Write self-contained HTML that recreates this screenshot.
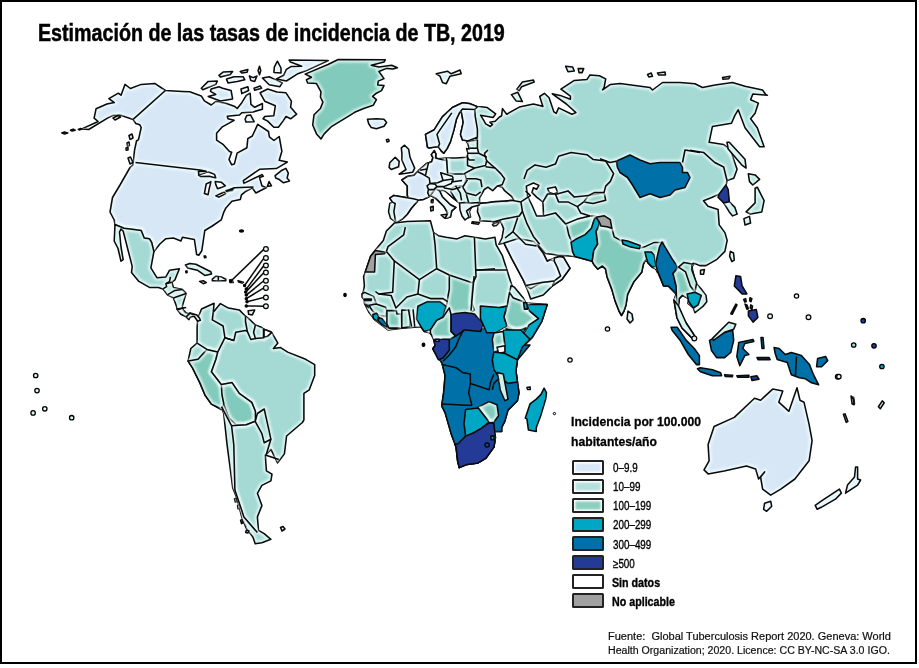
<!DOCTYPE html>
<html><head><meta charset="utf-8"><style>
html,body{margin:0;padding:0;background:#fff;}
body{width:919px;height:668px;position:relative;overflow:hidden;font-family:"Liberation Sans",sans-serif;}
#frame{position:absolute;left:0;top:0;width:913px;height:660px;border:2px solid #000;}
svg{position:absolute;left:0;top:0;}
.h{fill:none;stroke:#effffd;stroke-opacity:0.7;stroke-width:6;filter:url(#bl);mask:url(#lm);}
.k{fill:none;stroke:#0a0a0a;stroke-width:1.55;}
#title{position:absolute;left:38px;top:19.5px;font-size:23.5px;font-weight:bold;white-space:nowrap;transform-origin:0 0;transform:scaleX(0.837);line-height:26px;-webkit-text-stroke:0.5px #000;}
.lt{position:absolute;left:571px;font-size:13.4px;font-weight:bold;white-space:nowrap;transform-origin:0 0;transform:scaleX(0.91);line-height:16px;-webkit-text-stroke:0.3px #000;}
#lt1{top:414px;} #lt2{top:434px;}
.sw{position:absolute;left:572px;width:27.5px;height:11px;border:2px solid #222;border-radius:1.5px;}
.ll{position:absolute;left:613px;font-size:12px;white-space:nowrap;transform-origin:0 0;transform:scaleX(0.82);line-height:14px;-webkit-text-stroke:0.35px #000;}
.ll.b{font-weight:bold;transform:scaleX(0.89);left:612px;}
.ft{position:absolute;left:607.5px;font-size:10px;white-space:nowrap;transform-origin:0 0;transform:scaleX(1.06);line-height:12px;color:#111;-webkit-text-stroke:0.2px #111;}
#f1{top:630.5px;transform:scaleX(1.10);} #f2{top:645px;}
</style></head><body>
<div id="frame"></div>
<div id="title">Estimación de las tasas de incidencia de TB, 2019</div>
<div id="lt1" class="lt">Incidencia por 100.000</div>
<div id="lt2" class="lt">habitantes/año</div>
<div class="sw" style="top:459.6px;background:#d8e7f6;box-shadow:inset 0 0 2px 1.5px #fff;"></div>
<div class="ll" style="top:461.1px">0–9.9</div>
<div class="sw" style="top:478.7px;background:#b5e0dc;box-shadow:inset 0 0 2px 1.5px #fff;"></div>
<div class="ll" style="top:480.2px">10–99</div>
<div class="sw" style="top:497.8px;background:#8ccfbf;box-shadow:inset 0 0 2px 1.5px #fff;"></div>
<div class="ll" style="top:499.3px">100–199</div>
<div class="sw" style="top:516.9px;background:#00a7c5;"></div>
<div class="ll" style="top:518.4px">200–299</div>
<div class="sw" style="top:536.0px;background:#0071a8;"></div>
<div class="ll" style="top:537.5px">300–499</div>
<div class="sw" style="top:555.1px;background:#233b96;"></div>
<div class="ll" style="top:556.6px">≥500</div>
<div class="sw" style="top:574.2px;background:#ffffff;"></div>
<div class="ll b" style="top:575.7px">Sin datos</div>
<div class="sw" style="top:593.3px;background:#a0a0a0;"></div>
<div class="ll b" style="top:594.8px">No aplicable</div>
<div id="f1" class="ft">Fuente:&nbsp; Global Tuberculosis Report 2020. Geneva: World</div>
<div id="f2" class="ft">Health Organization; 2020. Licence: CC BY-NC-SA 3.0 IGO.</div>
<svg width="919" height="668" viewBox="0 0 919 668">
<defs><filter id="bl" filterUnits="userSpaceOnUse" x="0" y="0" width="919" height="668"><feGaussianBlur stdDeviation="1.1"/></filter><polygon id="p0" points="81.9,128.9 98.1,121.5 94.1,118.1 96.1,108.7 106.9,104.0 114.3,102.6 108.9,98.6 118.3,93.2 121.0,95.2 125.0,84.4 130.4,88.5 141.2,84.4 154.7,83.4 165.4,90.5 182.5,91.5 189.8,91.8 201.3,95.9 204.4,100.9 211.2,105.0 215.8,101.5 226.5,103.5 234.9,106.6 237.2,108.5 241.8,102.7 246.3,95.4 250.2,93.3 250.9,104.3 254.7,107.3 262.4,103.5 262.4,109.2 253.2,111.9 241.8,112.7 239.5,115.0 227.3,116.2 228.0,118.8 234.1,120.3 221.9,127.2 216.6,133.3 216.6,140.2 223.4,144.7 229.5,151.6 231.7,152.2 229.0,159.4 231.7,164.8 234.4,163.9 237.1,153.1 246.9,147.7 247.8,138.7 252.3,136.0 257.7,124.4 268.5,131.5 269.4,136.9 273.9,140.5 279.2,136.5 281.9,151.3 279.2,160.3 287.3,162.1 276.3,168.6 259.5,169.3 243.3,180.6 243.9,183.4 261.9,174.6 263.3,176.2 259.5,177.4 261.9,185.8 266.1,187.8 255.9,193.0 252.3,187.8 245.1,191.8 241.5,194.8 240.3,199.5 231.9,201.3 225.9,207.9 223.6,212.7 221.2,219.9 212.3,226.0 204.8,230.5 201.8,250.7 198.8,255.2 196.6,254.4 194.4,239.5 182.4,237.2 180.9,241.0 173.4,238.0 165.9,238.7 159.9,244.0 153.9,251.5 151.7,242.5 149.4,238.7 144.2,238.0 141.2,230.5 135.9,229.7 124.0,228.2 115.0,224.5 114.2,220.0 110.0,212.0 112.5,197.5 120.0,185.0 130.0,167.5 133.1,165.0 134.5,150.4 136.5,141.0 138.5,139.6 141.2,127.5 139.8,124.8 135.8,123.5 133.1,119.4 125.0,116.8 119.6,114.7 112.9,115.4 107.5,118.1 88.7,129.5"/><polygon id="p1" points="198.4,175.0 208.0,171.7 214.6,174.4 215.8,178.0 209.2,176.2 200.8,176.5"/><polygon id="p2" points="204.4,193.6 206.2,184.0 211.0,181.6 209.2,188.8 208.0,194.8"/><polygon id="p3" points="215.2,181.6 221.2,182.2 225.4,185.8 221.2,187.6 217.6,188.8 215.8,184.6"/><polygon id="p4" points="215.8,195.9 224.8,191.8 225.9,193.6 218.8,197.1"/><polygon id="p5" points="225.9,190.6 234.3,188.2 232.5,190.6 227.1,191.8"/><polygon id="p6" points="201.3,88.2 208.2,81.4 217.3,81.1 215.8,84.4 202.8,89.8"/><polygon id="p7" points="218.9,75.3 223.4,71.9 232.6,71.5 230.3,74.5 220.4,77.1"/><polygon id="p8" points="226.5,79.1 234.1,76.8 243.3,76.8 244.8,79.8 237.2,81.4 228.0,82.9"/><polygon id="p9" points="240.2,71.5 247.9,69.5 247.1,72.2 241.8,73.0"/><polygon id="p10" points="249.4,76.0 253.2,77.6 257.0,76.0 254.7,81.4 250.9,80.6"/><polygon id="p11" points="211.2,89.0 218.9,86.7 222.7,88.2 231.1,90.5 232.6,98.9 220.4,100.9 208.2,96.6 215.8,94.4 210.5,91.3"/><polygon id="p12" points="241.0,89.0 247.9,86.7 248.6,90.5 241.8,93.6"/><polygon id="p13" points="254.0,88.2 260.1,86.0 261.6,88.2 254.7,90.2"/><polygon id="p14" points="262.4,78.0 269.2,76.8 282.2,82.9 279.9,86.7 269.2,84.7"/><polygon id="p15" points="260.1,92.8 267.7,89.0 276.9,92.1 286.0,92.8 291.4,101.2 290.6,107.3 296.7,114.2 290.6,118.8 286.0,116.5 283.0,121.1 278.4,127.2 273.8,127.2 267.7,121.1 263.1,118.8 264.7,116.5 273.8,115.7 275.3,105.8 264.7,101.2"/><polygon id="p16" points="245.1,119.0 246.9,115.4 250.5,114.9 254.1,121.7 246.0,122.1"/><polygon id="p17" points="289.1,60.1 328.2,60.6 305.3,71.1 297.2,74.1 286.4,81.0 276.5,78.9 283.7,75.3 286.4,69.3 290.9,66.6 301.7,66.2 290.5,62.1"/><polygon id="p18" points="277.4,61.2 281.0,68.0 281.0,72.9 273.9,72.4 274.3,67.1"/><polygon id="p19" points="259.5,66.2 260.8,70.6 259.5,74.7 258.1,70.6"/><polygon id="p20" points="275.1,175.6 281.1,170.8 285.9,168.4 288.3,173.2 287.1,178.0 289.5,181.0 283.5,182.8 278.7,179.2 275.7,178.0"/><polygon id="p21" points="269.1,181.6 271.5,185.8 267.3,186.4"/><polygon id="p22" points="61.7,132.9 64.4,132.1 67.8,132.9 64.4,134.0"/><polygon id="p23" points="70.5,130.2 73.2,129.1 75.2,130.2 72.2,131.0"/><polygon id="p24" points="78.2,129.4 80.6,128.6 81.9,128.9 79.2,129.9"/><polygon id="p25" points="305.1,74.1 328.0,64.5 338.2,59.5 385.3,59.8 384.0,62.0 371.3,65.2 378.9,67.1 391.7,65.2 397.4,67.7 392.9,69.0 386.6,68.4 378.9,71.5 384.0,78.6 378.3,81.1 377.7,84.9 384.0,85.6 381.5,90.6 376.4,93.2 372.6,96.4 376.4,99.6 373.2,105.3 363.7,108.5 354.7,112.3 344.6,118.7 331.8,126.3 324.2,133.9 321.0,139.0 316.5,133.9 312.7,125.0 314.0,114.8 320.4,108.5 322.9,102.1 320.4,97.0 321.0,91.9 316.5,83.6 307.6,83.0 306.4,79.8 311.5,77.3"/><polygon id="p26" points="367.5,119.3 376.4,118.7 384.0,119.3 386.6,122.5 384.0,126.3 376.4,128.8 371.3,127.6 368.7,123.7"/><polygon id="p27" points="198.0,318.0 201.5,309.0 214.1,303.2 213.2,312.6 215.9,309.0 220.4,303.6 228.5,308.1 239.3,309.9 245.5,316.2 250.0,319.8 255.4,325.1 260.8,326.9 264.4,329.6 269.8,331.4 271.6,332.3 277.9,343.1 273.4,348.5 280.6,347.6 287.7,352.1 305.7,359.3 314.7,364.6 314.7,375.4 309.3,389.8 303.9,393.4 303.9,419.9 302.4,422.5 286.6,436.0 284.4,453.9 277.6,462.9 270.9,449.4 265.3,455.1 266.4,470.8 272.0,474.2 270.9,480.9 261.9,485.4 257.4,493.3 261.9,505.6 257.4,516.9 258.5,530.3 264.2,533.7 270.9,539.3 261.9,542.7 255.2,543.8 252.9,537.1 246.2,528.1 241.7,516.9 237.2,498.9 232.7,487.6 227.1,444.9 223.7,413.5 221.5,406.7 221.3,409.5 211.4,404.1 205.1,395.2 199.8,382.6 192.6,368.2 188.1,361.1 190.8,348.5 197.1,343.1 197.1,326.9"/><polygon id="p28" points="188.1,361.1 198.0,359.3 206.9,349.4 217.7,352.1 215.9,359.3 211.4,371.8 221.3,384.4 224.9,389.8 224.0,402.4 222.2,409.5 211.4,404.1 205.1,395.2 199.8,382.6 192.6,368.2"/><polygon id="p29" points="221.3,384.4 232.0,382.6 239.3,393.4 251.8,402.4 255.4,411.3 256.0,418.0 255.2,421.3 246.2,424.7 236.0,424.7 229.0,418.0 224.0,405.0 222.0,395.0"/><polygon id="p30" points="264.0,329.3 269.8,331.4 271.6,332.7 268.0,335.9 264.0,337.7"/><polygon id="p31" points="115.0,224.5 124.0,228.2 135.9,229.7 141.2,230.5 144.2,238.0 149.4,238.7 151.7,242.5 153.9,251.5 150.9,267.9 156.9,277.7 165.9,276.9 169.6,270.2 179.4,268.7 174.9,279.9 171.9,282.2 173.4,287.4 182.4,289.6 186.1,293.4 183.9,300.9 181.6,308.4 186.1,312.9 192.9,314.4 190.2,312.9 196.9,314.9 199.6,318.3 200.3,320.3 197.6,321.2 194.2,316.3 190.2,316.9 188.9,319.6 186.2,316.9 180.8,314.2 176.7,308.9 177.9,309.9 173.4,297.9 167.4,294.9 162.9,288.9 158.4,287.4 149.4,287.4 138.9,281.4 131.5,272.4 132.2,266.4 123.2,231.2 121.0,229.0 119.5,232.0 121.0,247.0 123.2,259.7 121.0,261.2 118.0,248.5 114.2,241.0"/><polygon id="p32" points="185.4,264.9 189.9,263.4 195.9,264.2 210.8,271.7 211.6,273.9 204.8,275.4 197.3,270.2 187.6,267.9"/><polygon id="p33" points="212.3,279.2 216.1,276.2 221.3,276.9 225.8,279.2 225.8,280.7 212.3,280.7"/><polygon id="p34" points="199.6,281.4 203.3,280.7 206.3,282.6 203.3,283.7"/><polygon id="p35" points="185.7,271.2 186.9,270.9 187.2,272.4 186.0,272.7"/><polygon id="p36" points="204.1,255.9 205.6,255.9 206.0,257.4 204.5,257.7"/><polygon id="p37" points="229.6,280.1 232.0,279.5 233.2,282.5 230.2,282.5"/><polygon id="p38" points="238.0,280.7 243.4,282.2 242.2,283.1 238.6,281.9"/><polygon id="p39" points="248.1,310.7 254.7,310.1 252.3,314.9 248.7,314.3"/><polygon id="p40" points="390.5,218.3 388.5,211.6 389.8,203.5 392.5,202.1 389.8,198.1 393.9,195.4 408.7,198.1 407.3,195.4 407.3,186.0 401.9,179.9 407.3,176.5 414.1,175.2 419.4,169.8 426.2,163.8 431.6,161.7 432.9,157.7 431.3,154.6 434.3,150.6 435.9,154.0 435.6,158.0 438.3,158.7 446.4,158.0 455.8,158.0 467.3,157.3 467.9,153.3 466.6,148.6 469.3,149.3 467.9,143.9 466.6,141.9 477.4,140.1 477.6,137.4 467.9,140.1 462.5,140.1 460.5,134.4 463.2,122.3 461.2,110.9 459.8,112.2 456.5,119.0 453.8,130.4 450.4,141.9 447.1,148.6 443.7,153.3 441.0,150.6 438.3,146.6 428.9,147.9 427.5,147.2 425.5,134.4 434.3,129.7 442.3,116.9 452.4,107.5 462.5,102.8 469.3,103.5 477.4,106.8 481.0,106.8 487.3,107.6 495.7,113.9 493.1,117.5 480.5,115.2 483.6,120.2 485.7,123.8 490.4,126.5 492.5,124.4 489.9,122.3 495.2,121.2 499.4,117.0 501.5,116.0 502.5,108.6 506.7,114.2 519.3,107.1 533.4,104.0 539.7,105.6 542.9,106.4 539.7,96.5 544.4,93.3 549.1,97.7 553.9,111.9 556.2,113.4 558.6,107.9 571.9,114.2 575.9,112.6 566.4,104.0 552.3,93.8 560.1,95.4 570.4,99.3 570.4,96.1 560.9,89.1 574.3,80.4 586.9,79.6 590.0,74.9 599.4,75.7 605.7,78.9 604.1,87.5 602.6,89.9 610.4,84.4 620.0,83.6 650.0,87.5 652.5,90.0 662.5,82.5 680.0,82.5 695.0,83.8 702.5,87.5 715.0,85.0 732.5,82.5 745.0,86.2 762.5,90.0 766.2,95.0 767.4,95.2 752.8,94.1 750.6,99.7 758.4,103.1 755.1,113.2 750.6,118.8 757.3,127.7 764.1,146.8 759.6,146.8 745.0,127.7 738.2,109.8 734.9,115.4 731.5,123.2 712.4,126.6 709.1,142.3 723.7,144.6 730.4,150.2 737.1,169.3 733.8,178.2 727.0,180.5 725.9,186.1 729.3,201.8 734.9,207.4 737.1,214.1 732.6,215.9 729.3,211.9 723.7,202.9 719.2,193.9 712.4,197.3 703.5,200.7 708.0,206.3 718.1,209.6 719.2,224.9 724.9,232.6 727.2,240.4 724.9,251.4 717.0,259.3 706.0,265.6 699.7,265.6 694.2,263.2 691.9,267.1 693.4,273.4 695.8,282.9 701.3,289.1 706.0,295.4 706.8,301.7 702.9,306.4 695.0,312.7 693.4,308.0 687.9,303.3 688.7,298.6 682.4,295.4 679.3,298.6 677.7,308.0 680.9,317.4 685.6,322.1 692.3,332.3 696.4,338.8 693.3,339.4 682.0,328.0 677.0,318.0 675.0,306.0 674.0,300.0 676.1,293.9 668.3,286.0 663.6,286.0 655.7,267.1 657.4,272.3 655.9,269.1 651.1,266.0 645.6,259.7 643.3,264.4 641.7,272.3 633.9,281.7 627.6,294.3 626.0,305.0 624.0,311.0 621.5,315.5 619.0,311.0 615.0,300.6 611.9,289.6 607.1,277.0 605.6,269.1 602.4,266.0 597.7,269.1 593.8,264.4 592.2,261.3 586.7,259.7 574.9,256.6 557.4,254.9 545.6,253.4 537.0,243.1 538.6,247.1 543.3,253.4 547.2,261.2 550.4,259.6 554.3,258.1 559.8,256.5 563.7,257.6 570.0,268.3 562.1,279.3 552.7,285.6 543.3,295.0 530.7,298.9 527.6,290.3 522.9,279.3 511.9,258.9 504.0,243.1 498.9,244.3 502.0,238.0 503.6,228.6 500.4,220.7 492.6,221.5 480.0,220.7 480.1,218.3 477.4,211.6 478.7,203.5 472.0,206.2 469.3,211.6 470.6,217.0 466.6,218.3 463.9,211.6 459.8,203.5 453.1,198.1 445.0,190.0 439.6,190.7 442.3,196.8 450.4,204.8 455.8,207.5 451.8,210.9 450.4,217.0 445.7,218.3 447.7,212.9 443.7,206.2 435.6,198.1 430.2,195.4 428.9,196.8 423.5,199.4 418.1,200.1 416.8,202.1 411.4,208.2 407.3,214.3 403.3,218.3 396.5,222.3"/><polygon id="p41" points="479.5,197.9 484.3,189.5 487.9,187.1 492.7,190.7 497.4,185.9 502.2,187.1 504.6,190.7 511.8,196.7 514.2,200.3 507.0,201.5 495.0,201.5 485.5,203.3 479.5,202.7"/><polygon id="p42" points="526.4,186.1 533.4,183.0 538.9,185.4 536.6,189.3 533.4,187.7 531.9,192.4 536.6,197.1 542.9,201.9 543.6,216.0 536.6,216.0 531.9,205.0 527.1,195.6"/><polygon id="p43" points="547.6,188.5 555.4,186.9 557.8,192.4 553.9,194.0 549.1,192.4"/><polygon id="p44" points="392.5,202.1 389.8,198.1 393.9,195.4 408.7,198.1 407.3,195.4 407.3,186.0 401.9,179.9 407.3,176.5 414.1,175.2 419.4,169.8 426.2,163.8 431.6,161.7 432.9,157.7 431.3,154.6 434.3,150.6 435.9,154.0 435.6,158.0 438.3,158.7 447.2,160.8 447.2,172.7 453.2,173.9 465.1,173.9 466.3,178.7 463.9,185.9 455.6,185.9 452.0,188.3 450.7,191.7 455.9,199.9 457.0,201.0 452.0,197.0 445.0,191.0 442.0,190.0 436.0,191.0 429.0,193.0 428.9,196.8 423.5,199.4 418.1,200.1 416.8,202.1 411.4,208.2 407.3,214.3 403.3,218.3 396.5,222.3 395.2,219.6 393.9,211.6 395.2,203.5"/><polygon id="p45" points="430.2,195.4 435.6,188.7 439.6,190.7 442.3,196.8 450.4,204.8 455.8,207.5 451.8,210.9 450.4,217.0 445.7,218.3 447.7,212.9 443.7,206.2 435.6,198.1"/><polygon id="p46" points="441.0,214.9 447.1,214.3 445.0,218.3"/><polygon id="p47" points="431.3,200.1 433.2,199.4 432.9,202.8 431.3,202.4"/><polygon id="p48" points="430.5,206.9 433.2,206.2 433.2,210.2 430.9,210.9"/><polygon id="p49" points="459.6,203.0 465.0,202.5 471.0,203.0 479.0,202.5 479.5,205.0 472.0,207.0 466.5,211.0 469.0,217.0 465.0,220.0 462.0,216.0 460.0,210.0"/><polygon id="p50" points="472.3,221.8 479.5,222.4 478.3,224.2 471.7,223.2"/><polygon id="p51" points="427.5,147.2 425.5,134.4 434.3,129.7 442.3,116.9 452.4,107.5 462.5,102.8 469.3,103.5 477.4,106.8 474.7,109.5 475.3,116.9 477.4,129.1 477.4,137.1 467.9,140.9 462.5,140.1 460.5,134.4 463.2,122.3 461.2,110.9 459.8,112.2 456.5,119.0 453.8,130.4 450.4,141.9 447.1,148.6 443.7,153.3 441.0,150.6 438.3,146.6 428.9,147.9"/><polygon id="p52" points="401.3,147.9 404.6,145.2 408.7,149.3 410.0,157.3 414.7,168.1 412.7,172.2 404.6,173.5 399.2,174.2 406.0,169.5 401.9,160.0 401.9,153.3"/><polygon id="p53" points="389.8,162.7 395.2,157.3 399.2,161.4 398.6,166.8 391.2,169.5 389.1,167.4"/><polygon id="p54" points="386.4,139.8 388.5,139.2 389.1,141.2 387.1,141.9"/><polygon id="p55" points="436.2,73.8 447.5,71.2 451.2,73.8 460.0,70.0 461.2,73.8 450.0,76.2 446.2,83.8 442.5,82.5 440.0,76.2"/><polygon id="p56" points="516.9,89.1 522.4,82.0 533.4,80.1 534.2,82.0 521.6,86.7 519.3,90.6"/><polygon id="p57" points="511.4,94.6 517.7,92.2 522.4,101.6 516.1,100.9"/><polygon id="p58" points="565.6,66.3 572.7,67.1 574.3,71.0 568.0,71.8"/><polygon id="p59" points="578.2,68.6 583.7,68.6 582.1,72.6 579.0,72.6"/><polygon id="p60" points="647.5,74.5 651.2,73.0 652.5,76.2 648.8,77.0"/><polygon id="p61" points="657.5,73.0 665.0,72.0 665.5,75.0 658.8,75.0"/><polygon id="p62" points="722.5,77.5 730.0,76.2 728.8,78.8 723.0,79.2"/><polygon id="p63" points="394.3,223.1 406.9,221.6 430.4,220.8 433.6,232.6 438.3,235.7 446.1,237.3 457.1,238.9 465.0,235.7 474.4,237.3 485.4,238.9 495.0,237.3 496.1,244.7 502.4,255.7 511.9,285.6 513.4,287.1 522.9,298.1 526.0,302.9 547.2,304.4 541.7,321.7 532.3,337.4 522.1,347.3 517.4,359.9 515.9,370.9 517.4,381.9 519.0,392.9 517.4,400.7 508.0,410.1 504.9,421.1 501.7,427.4 501.7,431.4 493.9,431.4 495.4,437.7 493.9,447.1 486.0,458.1 478.1,462.9 467.1,464.4 459.3,467.6 457.7,461.3 456.1,447.1 451.4,434.6 445.1,412.6 442.0,406.3 442.0,403.9 443.6,392.9 445.1,375.6 442.0,363.0 435.7,353.6 432.8,348.7 435.1,345.6 433.6,336.9 430.4,333.0 424.1,331.4 421.0,326.7 402.1,328.3 388.0,329.9 375.4,320.4 369.1,312.6 364.4,303.1 364.4,298.6 362.9,293.9 364.4,286.0 363.6,276.6 366.0,270.3 370.7,256.1 375.4,249.9 383.3,240.4 386.4,231.0"/><polygon id="p64" points="430.0,333.0 446.0,336.0 456.0,331.0 470.0,330.0 486.0,328.0 497.0,333.0 505.0,345.0 530.0,345.0 517.4,359.9 515.9,370.9 517.4,381.9 519.0,392.9 517.4,400.7 508.0,410.1 504.9,421.1 501.7,427.4 501.7,431.4 493.9,431.4 495.4,437.7 493.9,447.1 486.0,458.1 478.1,462.9 467.1,464.4 459.3,467.6 457.7,461.3 456.1,447.1 451.4,434.6 445.1,412.6 442.0,406.3 442.0,403.9 443.6,392.9 445.1,375.6 442.0,363.0 435.7,353.6 432.8,348.7 435.1,345.6 433.6,336.9"/><polygon id="p65" points="375.4,250.6 385.6,252.2 384.9,253.8 375.4,254.6 374.6,271.9 365.2,271.9 370.7,256.1"/><polygon id="p66" points="449.3,275.0 472.9,282.9 471.3,301.7 474.4,310.0 466.0,317.0 452.0,317.5 446.0,308.0 447.7,298.0 449.3,289.1"/><polygon id="p67" points="362.0,293.8 364.7,292.4 373.5,296.4 376.2,303.2 364.7,303.2 365.4,301.2 362.0,297.0"/><polygon id="p68" points="364.7,299.1 371.4,299.1 371.4,300.6 364.7,300.6"/><polygon id="p69" points="365.4,304.5 370.8,305.2 368.8,307.9 366.7,306.5"/><polygon id="p70" points="369.4,305.2 376.2,303.9 385.6,307.2 386.9,310.6 385.6,316.6 378.9,315.3 373.5,311.9 370.8,308.6"/><polygon id="p71" points="372.8,314.6 376.8,313.3 378.9,316.6 377.5,321.4 373.5,318.7"/><polygon id="p72" points="378.2,317.3 382.2,318.7 386.9,324.1 387.6,328.1 382.2,324.7 378.2,321.4"/><polygon id="p73" points="386.9,310.6 396.4,310.6 397.0,314.0 401.1,314.0 401.8,328.1 389.0,328.1 386.9,324.1"/><polygon id="p74" points="401.8,309.9 409.8,310.6 409.8,326.8 401.8,328.1"/><polygon id="p75" points="417.9,306.3 427.3,301.6 439.9,301.6 446.1,306.3 443.0,317.3 436.7,320.4 430.4,329.9 424.1,331.4 421.0,326.7 416.3,318.9"/><polygon id="p76" points="450.9,314.1 465.0,312.6 474.4,314.1 483.8,323.6 480.7,331.4 465.0,329.9 455.6,336.1 450.9,331.4"/><polygon id="p77" points="430.4,329.9 436.7,320.4 443.0,317.3 449.3,307.9 450.9,314.1 450.9,331.4 455.6,336.1 449.3,339.3 433.6,339.3 430.4,333.0"/><polygon id="p78" points="433.6,339.3 449.3,339.3 449.3,350.3 443.0,358.1 438.3,359.7 432.8,348.7 435.1,345.6"/><polygon id="p79" points="435.5,339.3 439.1,339.3 439.1,341.2 435.5,341.2"/><polygon id="p80" points="480.4,306.0 499.3,307.6 507.1,306.0 504.0,317.0 507.1,326.4 496.1,332.7 486.7,332.7 480.4,318.6"/><polygon id="p81" points="511.1,285.6 514.2,287.1 522.9,297.4 525.2,302.5 513.4,298.1 509.5,292.6"/><polygon id="p82" points="507.1,306.0 509.5,292.6 513.4,298.1 525.2,302.5 526.0,307.6 529.1,310.7 538.6,318.6 533.9,321.7 526.0,328.0 516.6,331.1 507.1,326.4 504.0,317.0"/><polygon id="p83" points="526.8,304.4 547.2,304.4 541.7,321.7 532.3,337.4 524.4,345.0 522.9,334.3 529.1,324.9 538.6,318.6 529.1,310.7"/><polygon id="p84" points="523.6,302.5 526.8,302.9 527.6,309.1 524.4,309.1"/><polygon id="p85" points="505.6,328.0 516.6,331.1 526.0,328.0 522.9,334.3 524.4,345.0 505.6,345.0"/><polygon id="p86" points="503.3,330.0 520.6,330.0 530.0,339.4 522.1,347.3 517.4,359.9 504.9,353.6 501.7,345.7"/><polygon id="p87" points="493.9,333.1 503.3,331.6 504.9,345.7 493.9,352.0 492.3,339.4"/><polygon id="p88" points="497.0,347.3 504.9,345.7 504.9,352.0 498.6,353.6"/><polygon id="p89" points="493.9,352.0 504.9,353.6 517.4,359.9 515.9,370.9 517.4,381.9 508.0,383.4 498.6,377.1 493.9,369.3 492.3,359.9"/><polygon id="p90" points="497.0,372.4 503.3,374.0 508.0,399.1 504.9,400.7 500.1,389.7 498.6,378.7"/><polygon id="p91" points="478.1,407.1 489.1,401.6 497.0,404.7 498.6,415.7 493.9,422.0 489.1,422.0"/><polygon id="p92" points="465.6,409.4 478.1,407.9 489.1,422.0 481.3,428.3 473.4,433.0 465.6,436.1 464.0,423.6"/><polygon id="p93" points="465.6,436.1 473.4,433.0 481.3,428.3 489.1,422.8 493.9,423.6 495.4,437.7 493.9,447.1 486.0,458.1 478.1,462.9 467.1,464.4 459.3,467.6 457.7,461.3 456.1,447.1 454.6,444.0 457.7,444.0"/><polygon id="p94" points="490.7,436.1 493.9,436.1 493.9,439.6 491.0,439.6"/><polygon id="p95" points="544.1,388.1 546.5,392.9 545.7,399.1 541.0,414.9 536.3,427.4 536.3,431.4 528.4,429.9 526.9,418.9 525.3,418.0 530.0,403.9 536.3,399.1 541.0,394.4"/><polygon id="p96" points="526.9,387.4 530.0,386.9 530.3,389.4 527.5,389.4"/><polygon id="p97" points="504.0,243.1 518.1,238.4 533.9,241.6 538.6,247.1 543.3,253.4 547.2,261.2 550.4,259.6 554.3,261.2 557.4,267.5 560.6,276.1 554.3,280.9 541.7,282.4 530.7,288.7 526.0,285.6 522.9,279.3 511.9,258.9"/><polygon id="p98" points="554.3,258.1 559.8,256.5 563.7,257.6 570.0,268.3 562.1,279.3 552.7,285.6 554.3,280.9 560.6,276.1 557.4,267.5 554.3,261.2"/><polygon id="p99" points="588.4,195.6 604.1,192.4 605.7,200.3 593.1,203.4 583.7,201.9"/><polygon id="p100" points="566.4,223.9 577.4,219.1 590.0,216.0 595.5,216.0 593.1,225.4 586.9,236.4 580.6,241.1 572.7,244.3 568.8,234.9"/><polygon id="p101" points="571.0,242.4 575.7,239.3 585.1,234.6 591.4,228.3 594.6,218.1 599.3,217.3 599.3,225.1 596.1,231.4 597.7,244.0 593.8,250.3 592.2,261.3 586.7,259.7 574.9,256.6 572.6,251.9"/><polygon id="p102" points="597.7,244.0 596.1,231.4 599.3,225.1 607.1,226.7 611.9,228.3 614.2,236.9 622.1,241.2 640.1,247.9 645.6,246.4 654.3,242.4 663.7,242.4 662.1,250.3 657.4,259.7 655.9,269.1 651.1,266.0 645.6,259.7 643.3,264.4 641.7,272.3 633.9,281.7 627.6,294.3 626.0,305.0 624.0,311.0 621.5,315.5 619.0,311.0 615.0,300.6 611.9,289.6 607.1,277.0 605.6,269.1 602.4,266.0 597.7,269.1 593.8,264.4 592.2,261.3 593.8,250.3"/><polygon id="p103" points="596.1,217.3 604.0,215.7 610.3,219.6 611.9,228.3 607.1,226.7 600.9,225.9 599.3,222.0"/><polygon id="p104" points="622.1,240.1 627.6,240.9 640.1,245.6 639.4,248.7 630.7,247.1 622.9,244.0"/><polygon id="p105" points="644.9,251.9 651.1,251.9 654.3,255.0 655.9,266.0 652.7,267.6 648.0,262.9 646.4,258.1"/><polygon id="p106" points="628.0,311.0 632.0,314.0 633.0,320.0 630.0,323.0 627.0,319.0"/><polygon id="p107" points="662.0,242.0 665.9,248.3 671.4,257.7 677.7,267.1 673.0,273.4 676.1,286.0 679.3,297.0 678.5,305.6 676.1,293.9 668.3,286.0 663.6,286.0 657.3,270.3 655.7,264.0 657.3,256.1 659.6,246.7"/><polygon id="p108" points="673.0,273.4 678.5,267.1 685.6,268.7 690.3,279.7 693.4,292.3 688.7,298.6 682.4,295.4 679.3,298.6 677.7,308.0 676.5,298.6 676.1,286.0"/><polygon id="p109" points="678.5,267.1 684.0,262.4 691.9,264.0 691.9,270.3 696.6,282.9 695.0,292.3 690.3,286.0 685.6,271.9"/><polygon id="p110" points="687.1,293.9 695.0,292.3 701.3,295.4 698.1,304.9 693.4,308.0 688.7,301.7"/><polygon id="p111" points="616.2,161.2 630.0,155.0 640.0,160.0 650.0,163.8 660.0,162.5 670.0,162.5 680.0,162.5 682.5,167.5 682.5,172.5 687.5,172.5 690.0,177.5 685.0,187.5 675.0,190.0 670.0,195.0 660.0,197.5 650.0,193.8 640.0,197.5 632.5,185.0 627.5,177.5 620.0,172.5 617.5,167.5"/><polygon id="p112" points="719.2,194.0 725.9,185.0 728.2,189.5 729.3,201.8 723.7,202.9 718.0,197.3"/><polygon id="p113" points="727.0,142.3 729.3,142.3 745.0,159.2 746.1,168.1 741.6,164.8 728.2,149.1"/><polygon id="p114" points="748.3,173.7 755.1,174.9 759.6,179.4 752.8,185.0 749.5,181.6"/><polygon id="p115" points="755.1,188.3 757.3,187.2 764.1,200.7 761.8,211.9 750.6,214.1 746.1,211.9 755.1,202.9"/><polygon id="p116" points="743.9,218.6 749.5,216.4 750.6,223.1 745.0,224.9"/><polygon id="p117" points="730.4,251.4 733.5,253.0 734.3,260.1 731.9,261.6 729.6,256.1"/><polygon id="p118" points="700.5,270.3 704.4,269.5 703.6,274.2 700.5,274.2"/><polygon id="p119" points="735.9,275.8 740.6,276.6 742.1,286.0 746.9,293.9 742.1,293.9 734.3,286.0"/><polygon id="p120" points="748.4,311.1 756.3,309.6 757.9,317.4 753.1,322.1 748.4,315.9"/><polygon id="p121" points="743.7,299.4 745.6,298.6 746.2,301.7 744.7,302.0"/><polygon id="p122" points="750.0,297.8 751.9,298.6 750.9,301.7 749.7,300.9"/><polygon id="p123" points="745.0,304.1 746.9,304.9 748.4,308.8 746.9,309.3"/><polygon id="p124" points="750.8,304.9 752.5,306.1 751.9,309.6 750.3,308.0"/><polygon id="p125" points="735.9,304.1 737.0,304.9 732.2,314.3 730.8,313.7"/><polygon id="p126" points="671.1,327.3 677.2,327.3 686.3,340.4 694.3,348.5 699.4,355.6 699.4,364.6 696.4,364.6 688.3,354.5 680.2,340.4 672.1,330.3"/><polygon id="p127" points="697.4,368.7 700.4,367.7 712.5,369.7 720.6,372.7 721.6,375.8 712.5,375.8 700.4,371.7"/><polygon id="p128" points="709.5,340.4 724.6,332.3 732.7,330.3 733.7,340.4 730.7,352.5 724.6,357.6 716.6,357.6 711.5,350.5"/><polygon id="p129" points="712.5,338.4 728.7,322.2 735.8,324.2 733.7,329.3 724.6,332.3 713.5,340.4"/><polygon id="p130" points="738.8,342.4 752.9,339.4 753.9,341.4 744.8,343.4 742.8,348.5 748.9,354.5 744.8,355.6 739.8,365.7 736.8,356.6"/><polygon id="p131" points="774.1,347.5 779.2,348.5 785.3,354.5 791.3,352.5 801.4,355.6 809.5,364.6 813.5,374.7 818.6,384.8 811.5,382.8 805.5,378.8 799.4,377.8 791.3,374.7 787.3,362.6 777.2,359.6 775.2,353.5"/><polygon id="p132" points="817.6,358.6 825.7,356.6 827.7,360.6 821.6,366.7 816.6,366.7"/><polygon id="p133" points="750.9,376.8 757.0,375.8 759.0,379.2 751.9,380.4"/><polygon id="p134" points="724.6,374.7 732.7,375.2 732.3,376.8 725.1,376.4"/><polygon id="p135" points="736.8,375.8 748.9,375.2 748.9,377.2 737.8,377.2"/><polygon id="p136" points="757.0,357.6 769.1,357.6 770.1,359.6 758.0,359.6"/><polygon id="p137" points="761.0,337.4 763.0,337.4 764.0,348.5 762.0,348.5"/><polygon id="p138" points="674.0,300.0 678.6,306.1 686.3,323.2 692.3,332.3 696.4,338.8 693.3,339.4 682.0,328.0 677.0,318.0 675.0,306.0"/><polygon id="p139" points="704.0,469.9 709.1,460.8 708.1,444.6 714.1,426.5 734.3,417.4 754.5,398.2 760.6,400.2 772.7,389.1 782.8,391.1 778.8,402.2 788.9,411.3 797.0,387.7 800.0,400.2 804.0,402.2 809.1,424.4 812.1,440.6 809.1,460.8 794.9,479.0 780.8,489.1 770.7,495.2 762.6,489.1 760.6,477.0 764.6,471.9 758.6,479.0 755.6,468.9 746.5,465.9 724.2,470.9 708.1,473.9"/><polygon id="p140" points="764.6,503.2 770.7,501.2 771.7,506.3 766.7,511.3 763.6,509.3"/><polygon id="p141" points="855.6,466.9 857.6,466.9 857.6,479.0 860.6,480.0 857.6,485.1 845.5,493.1 847.5,485.1 854.5,477.0"/><polygon id="p142" points="815.2,505.3 821.2,501.2 839.4,489.1 841.4,493.1 835.4,499.2 821.2,507.3 817.2,509.3"/><polygon id="p143" points="843.4,414.3 845.1,413.9 847.9,421.4 846.3,422.4"/><polygon id="p144" points="851.9,397.2 853.5,397.2 854.5,403.8 853.1,404.2"/><polygon id="p145" points="851.1,396.0 853.5,398.9 854.0,404.8 852.1,403.8"/><polygon id="p146" points="882.3,400.9 884.2,402.8 880.3,408.7 878.4,406.7"/><polygon id="p147" points="492.5,224.5 496.0,223.0 499.0,222.8 496.5,225.5 493.5,226.0"/><polygon id="p148" points="280.5,527.5 283.0,526.5 285.0,529.0 282.0,531.0"/><polygon id="p149" points="113.0,118.0 118.0,115.5 120.5,117.0 115.0,120.0"/><polygon id="p150" points="129.0,135.5 132.0,134.0 133.0,138.0 130.0,139.5"/><polygon id="p151" points="127.0,143.0 129.0,142.0 129.5,145.5 127.5,146.0"/><polygon id="p152" points="126.0,148.0 128.0,147.5 128.0,150.0 126.2,150.2"/><polygon id="p153" points="128.0,158.0 130.5,157.0 133.0,162.5 130.0,164.0"/><polygon id="p154" points="234.5,498.9 235.8,498.4 236.7,501.6 235.4,502.0"/><polygon id="p155" points="237.6,505.6 239.0,505.2 239.4,508.3 238.1,508.8"/><polygon id="p156" points="240.6,520.2 242.1,519.8 243.0,523.1 241.5,523.6"/><polygon id="p157" points="246.2,530.3 248.9,530.8 248.0,533.0 245.7,532.6"/><mask id="lm" maskUnits="userSpaceOnUse" x="0" y="0" width="919" height="668"><rect width="919" height="668" fill="#000"/><use href="#p0" fill="#fff"/><use href="#p1" fill="#000"/><use href="#p2" fill="#000"/><use href="#p3" fill="#000"/><use href="#p4" fill="#000"/><use href="#p5" fill="#000"/><use href="#p6" fill="#fff"/><use href="#p7" fill="#fff"/><use href="#p8" fill="#fff"/><use href="#p9" fill="#fff"/><use href="#p10" fill="#fff"/><use href="#p11" fill="#fff"/><use href="#p12" fill="#fff"/><use href="#p13" fill="#fff"/><use href="#p14" fill="#fff"/><use href="#p15" fill="#fff"/><use href="#p16" fill="#fff"/><use href="#p17" fill="#fff"/><use href="#p18" fill="#fff"/><use href="#p19" fill="#fff"/><use href="#p20" fill="#fff"/><use href="#p21" fill="#fff"/><use href="#p22" fill="#fff"/><use href="#p23" fill="#fff"/><use href="#p24" fill="#fff"/><use href="#p25" fill="#fff"/><use href="#p26" fill="#fff"/><use href="#p27" fill="#fff"/><use href="#p28" fill="#fff"/><use href="#p29" fill="#fff"/><use href="#p30" fill="#000"/><use href="#p31" fill="#fff"/><use href="#p32" fill="#fff"/><use href="#p33" fill="#fff"/><use href="#p34" fill="#fff"/><use href="#p35" fill="#fff"/><use href="#p36" fill="#fff"/><use href="#p37" fill="#fff"/><use href="#p38" fill="#fff"/><use href="#p39" fill="#fff"/><use href="#p40" fill="#fff"/><use href="#p41" fill="#000"/><use href="#p42" fill="#000"/><use href="#p43" fill="#000"/><use href="#p44" fill="#fff"/><use href="#p45" fill="#fff"/><use href="#p46" fill="#fff"/><use href="#p47" fill="#fff"/><use href="#p48" fill="#fff"/><use href="#p49" fill="#fff"/><use href="#p50" fill="#fff"/><use href="#p51" fill="#fff"/><use href="#p52" fill="#fff"/><use href="#p53" fill="#fff"/><use href="#p54" fill="#fff"/><use href="#p55" fill="#fff"/><use href="#p56" fill="#fff"/><use href="#p57" fill="#fff"/><use href="#p58" fill="#fff"/><use href="#p59" fill="#fff"/><use href="#p60" fill="#fff"/><use href="#p61" fill="#fff"/><use href="#p62" fill="#fff"/><use href="#p63" fill="#fff"/><use href="#p64" fill="#000"/><use href="#p65" fill="#000"/><use href="#p66" fill="#fff"/><use href="#p67" fill="#fff"/><use href="#p68" fill="#000"/><use href="#p69" fill="#000"/><use href="#p70" fill="#fff"/><use href="#p71" fill="#000"/><use href="#p72" fill="#000"/><use href="#p73" fill="#fff"/><use href="#p74" fill="#fff"/><use href="#p75" fill="#000"/><use href="#p76" fill="#000"/><use href="#p77" fill="#fff"/><use href="#p78" fill="#000"/><use href="#p79" fill="#000"/><use href="#p80" fill="#000"/><use href="#p81" fill="#fff"/><use href="#p82" fill="#fff"/><use href="#p83" fill="#000"/><use href="#p84" fill="#000"/><use href="#p85" fill="#000"/><use href="#p86" fill="#000"/><use href="#p87" fill="#fff"/><use href="#p88" fill="#000"/><use href="#p89" fill="#000"/><use href="#p90" fill="#fff"/><use href="#p91" fill="#fff"/><use href="#p92" fill="#000"/><use href="#p93" fill="#000"/><use href="#p94" fill="#000"/><use href="#p95" fill="#000"/><use href="#p96" fill="#fff"/><use href="#p97" fill="#fff"/><use href="#p98" fill="#fff"/><use href="#p99" fill="#fff"/><use href="#p100" fill="#fff"/><use href="#p101" fill="#000"/><use href="#p102" fill="#fff"/><use href="#p103" fill="#000"/><use href="#p104" fill="#000"/><use href="#p105" fill="#000"/><use href="#p106" fill="#fff"/><use href="#p107" fill="#000"/><use href="#p108" fill="#fff"/><use href="#p109" fill="#fff"/><use href="#p110" fill="#000"/><use href="#p111" fill="#000"/><use href="#p112" fill="#000"/><use href="#p113" fill="#fff"/><use href="#p114" fill="#fff"/><use href="#p115" fill="#fff"/><use href="#p116" fill="#fff"/><use href="#p117" fill="#fff"/><use href="#p118" fill="#fff"/><use href="#p119" fill="#000"/><use href="#p120" fill="#000"/><use href="#p121" fill="#000"/><use href="#p122" fill="#000"/><use href="#p123" fill="#000"/><use href="#p124" fill="#000"/><use href="#p125" fill="#000"/><use href="#p126" fill="#000"/><use href="#p127" fill="#000"/><use href="#p128" fill="#000"/><use href="#p129" fill="#fff"/><use href="#p130" fill="#000"/><use href="#p131" fill="#000"/><use href="#p132" fill="#000"/><use href="#p133" fill="#000"/><use href="#p134" fill="#000"/><use href="#p135" fill="#000"/><use href="#p136" fill="#000"/><use href="#p137" fill="#000"/><use href="#p138" fill="#fff"/><use href="#p139" fill="#fff"/><use href="#p140" fill="#fff"/><use href="#p141" fill="#fff"/><use href="#p142" fill="#fff"/><use href="#p143" fill="#fff"/><use href="#p144" fill="#fff"/><use href="#p145" fill="#fff"/><use href="#p146" fill="#fff"/><use href="#p147" fill="#fff"/><use href="#p148" fill="#fff"/><use href="#p149" fill="#fff"/><use href="#p150" fill="#fff"/><use href="#p151" fill="#fff"/><use href="#p152" fill="#fff"/><use href="#p153" fill="#fff"/><use href="#p154" fill="#fff"/><use href="#p155" fill="#fff"/><use href="#p156" fill="#fff"/><use href="#p157" fill="#fff"/></mask></defs>
<g stroke="#000" stroke-width="1.3" stroke-linejoin="round">
<use href="#p0" fill="#d8e7f6" stroke="none"/><use href="#p0" class="h"/><use href="#p0" class="k"/>
<use href="#p1" fill="#ffffff" stroke="none"/><use href="#p1" class="h"/><use href="#p1" class="k"/>
<use href="#p2" fill="#ffffff" stroke="none"/><use href="#p2" class="h"/><use href="#p2" class="k"/>
<use href="#p3" fill="#ffffff" stroke="none"/><use href="#p3" class="h"/><use href="#p3" class="k"/>
<use href="#p4" fill="#ffffff" stroke="none"/><use href="#p4" class="h"/><use href="#p4" class="k"/>
<use href="#p5" fill="#ffffff" stroke="none"/><use href="#p5" class="h"/><use href="#p5" class="k"/>
<use href="#p6" fill="#d8e7f6" stroke="none"/><use href="#p6" class="h"/><use href="#p6" class="k"/>
<use href="#p7" fill="#d8e7f6" stroke="none"/><use href="#p7" class="h"/><use href="#p7" class="k"/>
<use href="#p8" fill="#d8e7f6" stroke="none"/><use href="#p8" class="h"/><use href="#p8" class="k"/>
<use href="#p9" fill="#d8e7f6" stroke="none"/><use href="#p9" class="h"/><use href="#p9" class="k"/>
<use href="#p10" fill="#d8e7f6" stroke="none"/><use href="#p10" class="h"/><use href="#p10" class="k"/>
<use href="#p11" fill="#d8e7f6" stroke="none"/><use href="#p11" class="h"/><use href="#p11" class="k"/>
<use href="#p12" fill="#d8e7f6" stroke="none"/><use href="#p12" class="h"/><use href="#p12" class="k"/>
<use href="#p13" fill="#d8e7f6" stroke="none"/><use href="#p13" class="h"/><use href="#p13" class="k"/>
<use href="#p14" fill="#d8e7f6" stroke="none"/><use href="#p14" class="h"/><use href="#p14" class="k"/>
<use href="#p15" fill="#d8e7f6" stroke="none"/><use href="#p15" class="h"/><use href="#p15" class="k"/>
<use href="#p16" fill="#d8e7f6" stroke="none"/><use href="#p16" class="h"/><use href="#p16" class="k"/>
<use href="#p17" fill="#d8e7f6" stroke="none"/><use href="#p17" class="h"/><use href="#p17" class="k"/>
<use href="#p18" fill="#d8e7f6" stroke="none"/><use href="#p18" class="h"/><use href="#p18" class="k"/>
<use href="#p19" fill="#d8e7f6" stroke="none"/><use href="#p19" class="h"/><use href="#p19" class="k"/>
<use href="#p20" fill="#d8e7f6" stroke="none"/><use href="#p20" class="h"/><use href="#p20" class="k"/>
<use href="#p21" fill="#d8e7f6" stroke="none"/><use href="#p21" class="h"/><use href="#p21" class="k"/>
<use href="#p22" fill="#d8e7f6" stroke="none"/><use href="#p22" class="h"/><use href="#p22" class="k"/>
<use href="#p23" fill="#d8e7f6" stroke="none"/><use href="#p23" class="h"/><use href="#p23" class="k"/>
<use href="#p24" fill="#d8e7f6" stroke="none"/><use href="#p24" class="h"/><use href="#p24" class="k"/>
<use href="#p25" fill="#82cabb" stroke="none"/><use href="#p25" class="h"/><use href="#p25" class="k"/>
<use href="#p26" fill="#d8e7f6" stroke="none"/><use href="#p26" class="h"/><use href="#p26" class="k"/>
<use href="#p27" fill="#a4d9d4" stroke="none"/><use href="#p27" class="h"/><use href="#p27" class="k"/>
<use href="#p28" fill="#82cabb" stroke="none"/><use href="#p28" class="h"/><use href="#p28" class="k"/>
<use href="#p29" fill="#82cabb" stroke="none"/><use href="#p29" class="h"/><use href="#p29" class="k"/>
<use href="#p30" fill="#ffffff" stroke="none"/><use href="#p30" class="h"/><use href="#p30" class="k"/>
<use href="#p31" fill="#a4d9d4" stroke="none"/><use href="#p31" class="h"/><use href="#p31" class="k"/>
<use href="#p32" fill="#a4d9d4" stroke="none"/><use href="#p32" class="h"/><use href="#p32" class="k"/>
<use href="#p33" fill="#a4d9d4" stroke="none"/><use href="#p33" class="h"/><use href="#p33" class="k"/>
<use href="#p34" fill="#a4d9d4" stroke="none"/><use href="#p34" class="h"/><use href="#p34" class="k"/>
<use href="#p35" fill="#d8e7f6" stroke="none"/><use href="#p35" class="h"/><use href="#p35" class="k"/>
<use href="#p36" fill="#d8e7f6" stroke="none"/><use href="#p36" class="h"/><use href="#p36" class="k"/>
<use href="#p37" fill="#a4d9d4" stroke="none"/><use href="#p37" class="h"/><use href="#p37" class="k"/>
<use href="#p38" fill="#a4d9d4" stroke="none"/><use href="#p38" class="h"/><use href="#p38" class="k"/>
<use href="#p39" fill="#a4d9d4" stroke="none"/><use href="#p39" class="h"/><use href="#p39" class="k"/>
<use href="#p40" fill="#a4d9d4" stroke="none"/><use href="#p40" class="h"/><use href="#p40" class="k"/>
<use href="#p41" fill="#ffffff" stroke="none"/><use href="#p41" class="h"/><use href="#p41" class="k"/>
<use href="#p42" fill="#ffffff" stroke="none"/><use href="#p42" class="h"/><use href="#p42" class="k"/>
<use href="#p43" fill="#ffffff" stroke="none"/><use href="#p43" class="h"/><use href="#p43" class="k"/>
<use href="#p44" fill="#d8e7f6" stroke="none"/><use href="#p44" class="h"/><use href="#p44" class="k"/>
<use href="#p45" fill="#d8e7f6" stroke="none"/><use href="#p45" class="h"/><use href="#p45" class="k"/>
<use href="#p46" fill="#d8e7f6" stroke="none"/><use href="#p46" class="h"/><use href="#p46" class="k"/>
<use href="#p47" fill="#d8e7f6" stroke="none"/><use href="#p47" class="h"/><use href="#p47" class="k"/>
<use href="#p48" fill="#d8e7f6" stroke="none"/><use href="#p48" class="h"/><use href="#p48" class="k"/>
<use href="#p49" fill="#d8e7f6" stroke="none"/><use href="#p49" class="h"/><use href="#p49" class="k"/>
<use href="#p50" fill="#d8e7f6" stroke="none"/><use href="#p50" class="h"/><use href="#p50" class="k"/>
<use href="#p51" fill="#d8e7f6" stroke="none"/><use href="#p51" class="h"/><use href="#p51" class="k"/>
<use href="#p52" fill="#d8e7f6" stroke="none"/><use href="#p52" class="h"/><use href="#p52" class="k"/>
<use href="#p53" fill="#d8e7f6" stroke="none"/><use href="#p53" class="h"/><use href="#p53" class="k"/>
<use href="#p54" fill="#d8e7f6" stroke="none"/><use href="#p54" class="h"/><use href="#p54" class="k"/>
<use href="#p55" fill="#d8e7f6" stroke="none"/><use href="#p55" class="h"/><use href="#p55" class="k"/>
<use href="#p56" fill="#a4d9d4" stroke="none"/><use href="#p56" class="h"/><use href="#p56" class="k"/>
<use href="#p57" fill="#a4d9d4" stroke="none"/><use href="#p57" class="h"/><use href="#p57" class="k"/>
<use href="#p58" fill="#a4d9d4" stroke="none"/><use href="#p58" class="h"/><use href="#p58" class="k"/>
<use href="#p59" fill="#a4d9d4" stroke="none"/><use href="#p59" class="h"/><use href="#p59" class="k"/>
<use href="#p60" fill="#a4d9d4" stroke="none"/><use href="#p60" class="h"/><use href="#p60" class="k"/>
<use href="#p61" fill="#a4d9d4" stroke="none"/><use href="#p61" class="h"/><use href="#p61" class="k"/>
<use href="#p62" fill="#a4d9d4" stroke="none"/><use href="#p62" class="h"/><use href="#p62" class="k"/>
<use href="#p63" fill="#a4d9d4" stroke="none"/><use href="#p63" class="h"/><use href="#p63" class="k"/>
<use href="#p64" class="h"/><use href="#p64" fill="#0071a8" stroke="none"/><use href="#p64" class="k"/>
<use href="#p65" class="h"/><use href="#p65" fill="#a0a0a0" stroke="none"/><use href="#p65" class="k"/>
<use href="#p66" fill="#82cabb" stroke="none"/><use href="#p66" class="h"/><use href="#p66" class="k"/>
<use href="#p67" fill="#82cabb" stroke="none"/><use href="#p67" class="h"/><use href="#p67" class="k"/>
<use href="#p68" fill="#ffffff" stroke="none"/><use href="#p68" class="h"/><use href="#p68" class="k"/>
<use href="#p69" class="h"/><use href="#p69" fill="#0071a8" stroke="none"/><use href="#p69" class="k"/>
<use href="#p70" fill="#82cabb" stroke="none"/><use href="#p70" class="h"/><use href="#p70" class="k"/>
<use href="#p71" class="h"/><use href="#p71" fill="#00a7c5" stroke="none"/><use href="#p71" class="k"/>
<use href="#p72" class="h"/><use href="#p72" fill="#0071a8" stroke="none"/><use href="#p72" class="k"/>
<use href="#p73" fill="#82cabb" stroke="none"/><use href="#p73" class="h"/><use href="#p73" class="k"/>
<use href="#p74" fill="#82cabb" stroke="none"/><use href="#p74" class="h"/><use href="#p74" class="k"/>
<use href="#p75" class="h"/><use href="#p75" fill="#00a7c5" stroke="none"/><use href="#p75" class="k"/>
<use href="#p76" class="h"/><use href="#p76" fill="#233b96" stroke="none"/><use href="#p76" class="k"/>
<use href="#p77" fill="#82cabb" stroke="none"/><use href="#p77" class="h"/><use href="#p77" class="k"/>
<use href="#p78" class="h"/><use href="#p78" fill="#233b96" stroke="none"/><use href="#p78" class="k"/>
<use href="#p79" fill="#ffffff" stroke="none"/><use href="#p79" class="h"/><use href="#p79" class="k"/>
<use href="#p80" class="h"/><use href="#p80" fill="#00a7c5" stroke="none"/><use href="#p80" class="k"/>
<use href="#p81" fill="#a4d9d4" stroke="none"/><use href="#p81" class="h"/><use href="#p81" class="k"/>
<use href="#p82" fill="#82cabb" stroke="none"/><use href="#p82" class="h"/><use href="#p82" class="k"/>
<use href="#p83" class="h"/><use href="#p83" fill="#00a7c5" stroke="none"/><use href="#p83" class="k"/>
<use href="#p84" class="h"/><use href="#p84" fill="#00a7c5" stroke="none"/><use href="#p84" class="k"/>
<use href="#p85" class="h"/><use href="#p85" fill="#00a7c5" stroke="none"/><use href="#p85" class="k"/>
<use href="#p86" class="h"/><use href="#p86" fill="#00a7c5" stroke="none"/><use href="#p86" class="k"/>
<use href="#p87" fill="#82cabb" stroke="none"/><use href="#p87" class="h"/><use href="#p87" class="k"/>
<use href="#p88" fill="#ffffff" stroke="none"/><use href="#p88" class="h"/><use href="#p88" class="k"/>
<use href="#p89" class="h"/><use href="#p89" fill="#00a7c5" stroke="none"/><use href="#p89" class="k"/>
<use href="#p90" fill="#82cabb" stroke="none"/><use href="#p90" class="h"/><use href="#p90" class="k"/>
<use href="#p91" fill="#82cabb" stroke="none"/><use href="#p91" class="h"/><use href="#p91" class="k"/>
<use href="#p92" class="h"/><use href="#p92" fill="#00a7c5" stroke="none"/><use href="#p92" class="k"/>
<use href="#p93" class="h"/><use href="#p93" fill="#233b96" stroke="none"/><use href="#p93" class="k"/>
<use href="#p94" class="h"/><use href="#p94" fill="#00a7c5" stroke="none"/><use href="#p94" class="k"/>
<use href="#p95" class="h"/><use href="#p95" fill="#00a7c5" stroke="none"/><use href="#p95" class="k"/>
<use href="#p96" fill="#a4d9d4" stroke="none"/><use href="#p96" class="h"/><use href="#p96" class="k"/>
<use href="#p97" fill="#d8e7f6" stroke="none"/><use href="#p97" class="h"/><use href="#p97" class="k"/>
<use href="#p98" fill="#d8e7f6" stroke="none"/><use href="#p98" class="h"/><use href="#p98" class="k"/>
<use href="#p99" fill="#82cabb" stroke="none"/><use href="#p99" class="h"/><use href="#p99" class="k"/>
<use href="#p100" fill="#82cabb" stroke="none"/><use href="#p100" class="h"/><use href="#p100" class="k"/>
<use href="#p101" class="h"/><use href="#p101" fill="#00a7c5" stroke="none"/><use href="#p101" class="k"/>
<use href="#p102" fill="#82cabb" stroke="none"/><use href="#p102" class="h"/><use href="#p102" class="k"/>
<use href="#p103" class="h"/><use href="#p103" fill="#a0a0a0" stroke="none"/><use href="#p103" class="k"/>
<use href="#p104" class="h"/><use href="#p104" fill="#00a7c5" stroke="none"/><use href="#p104" class="k"/>
<use href="#p105" class="h"/><use href="#p105" fill="#00a7c5" stroke="none"/><use href="#p105" class="k"/>
<use href="#p106" fill="#a4d9d4" stroke="none"/><use href="#p106" class="h"/><use href="#p106" class="k"/>
<use href="#p107" class="h"/><use href="#p107" fill="#0071a8" stroke="none"/><use href="#p107" class="k"/>
<use href="#p108" fill="#82cabb" stroke="none"/><use href="#p108" class="h"/><use href="#p108" class="k"/>
<use href="#p109" fill="#82cabb" stroke="none"/><use href="#p109" class="h"/><use href="#p109" class="k"/>
<use href="#p110" class="h"/><use href="#p110" fill="#00a7c5" stroke="none"/><use href="#p110" class="k"/>
<use href="#p111" class="h"/><use href="#p111" fill="#0071a8" stroke="none"/><use href="#p111" class="k"/>
<use href="#p112" class="h"/><use href="#p112" fill="#233b96" stroke="none"/><use href="#p112" class="k"/>
<use href="#p113" fill="#a4d9d4" stroke="none"/><use href="#p113" class="h"/><use href="#p113" class="k"/>
<use href="#p114" fill="#a4d9d4" stroke="none"/><use href="#p114" class="h"/><use href="#p114" class="k"/>
<use href="#p115" fill="#a4d9d4" stroke="none"/><use href="#p115" class="h"/><use href="#p115" class="k"/>
<use href="#p116" fill="#a4d9d4" stroke="none"/><use href="#p116" class="h"/><use href="#p116" class="k"/>
<use href="#p117" fill="#a4d9d4" stroke="none"/><use href="#p117" class="h"/><use href="#p117" class="k"/>
<use href="#p118" fill="#a4d9d4" stroke="none"/><use href="#p118" class="h"/><use href="#p118" class="k"/>
<use href="#p119" class="h"/><use href="#p119" fill="#233b96" stroke="none"/><use href="#p119" class="k"/>
<use href="#p120" class="h"/><use href="#p120" fill="#233b96" stroke="none"/><use href="#p120" class="k"/>
<use href="#p121" class="h"/><use href="#p121" fill="#233b96" stroke="none"/><use href="#p121" class="k"/>
<use href="#p122" class="h"/><use href="#p122" fill="#233b96" stroke="none"/><use href="#p122" class="k"/>
<use href="#p123" class="h"/><use href="#p123" fill="#233b96" stroke="none"/><use href="#p123" class="k"/>
<use href="#p124" class="h"/><use href="#p124" fill="#233b96" stroke="none"/><use href="#p124" class="k"/>
<use href="#p125" class="h"/><use href="#p125" fill="#233b96" stroke="none"/><use href="#p125" class="k"/>
<use href="#p126" class="h"/><use href="#p126" fill="#0071a8" stroke="none"/><use href="#p126" class="k"/>
<use href="#p127" class="h"/><use href="#p127" fill="#0071a8" stroke="none"/><use href="#p127" class="k"/>
<use href="#p128" class="h"/><use href="#p128" fill="#0071a8" stroke="none"/><use href="#p128" class="k"/>
<use href="#p129" fill="#a4d9d4" stroke="none"/><use href="#p129" class="h"/><use href="#p129" class="k"/>
<use href="#p130" class="h"/><use href="#p130" fill="#0071a8" stroke="none"/><use href="#p130" class="k"/>
<use href="#p131" class="h"/><use href="#p131" fill="#0071a8" stroke="none"/><use href="#p131" class="k"/>
<use href="#p132" class="h"/><use href="#p132" fill="#0071a8" stroke="none"/><use href="#p132" class="k"/>
<use href="#p133" class="h"/><use href="#p133" fill="#233b96" stroke="none"/><use href="#p133" class="k"/>
<use href="#p134" class="h"/><use href="#p134" fill="#0071a8" stroke="none"/><use href="#p134" class="k"/>
<use href="#p135" class="h"/><use href="#p135" fill="#0071a8" stroke="none"/><use href="#p135" class="k"/>
<use href="#p136" class="h"/><use href="#p136" fill="#0071a8" stroke="none"/><use href="#p136" class="k"/>
<use href="#p137" class="h"/><use href="#p137" fill="#0071a8" stroke="none"/><use href="#p137" class="k"/>
<use href="#p138" fill="#a4d9d4" stroke="none"/><use href="#p138" class="h"/><use href="#p138" class="k"/>
<use href="#p139" fill="#d8e7f6" stroke="none"/><use href="#p139" class="h"/><use href="#p139" class="k"/>
<use href="#p140" fill="#d8e7f6" stroke="none"/><use href="#p140" class="h"/><use href="#p140" class="k"/>
<use href="#p141" fill="#d8e7f6" stroke="none"/><use href="#p141" class="h"/><use href="#p141" class="k"/>
<use href="#p142" fill="#d8e7f6" stroke="none"/><use href="#p142" class="h"/><use href="#p142" class="k"/>
<use href="#p143" fill="#a4d9d4" stroke="none"/><use href="#p143" class="h"/><use href="#p143" class="k"/>
<use href="#p144" fill="#a4d9d4" stroke="none"/><use href="#p144" class="h"/><use href="#p144" class="k"/>
<use href="#p145" fill="#a4d9d4" stroke="none"/><use href="#p145" class="h"/><use href="#p145" class="k"/>
<use href="#p146" fill="#a4d9d4" stroke="none"/><use href="#p146" class="h"/><use href="#p146" class="k"/>
<use href="#p147" fill="#d8e7f6" stroke="none"/><use href="#p147" class="h"/><use href="#p147" class="k"/>
<use href="#p148" fill="#d8e7f6" stroke="none"/><use href="#p148" class="h"/><use href="#p148" class="k"/>
<use href="#p149" fill="#d8e7f6" stroke="none"/><use href="#p149" class="h"/><use href="#p149" class="k"/>
<use href="#p150" fill="#d8e7f6" stroke="none"/><use href="#p150" class="h"/><use href="#p150" class="k"/>
<use href="#p151" fill="#d8e7f6" stroke="none"/><use href="#p151" class="h"/><use href="#p151" class="k"/>
<use href="#p152" fill="#d8e7f6" stroke="none"/><use href="#p152" class="h"/><use href="#p152" class="k"/>
<use href="#p153" fill="#d8e7f6" stroke="none"/><use href="#p153" class="h"/><use href="#p153" class="k"/>
<use href="#p154" fill="#a4d9d4" stroke="none"/><use href="#p154" class="h"/><use href="#p154" class="k"/>
<use href="#p155" fill="#a4d9d4" stroke="none"/><use href="#p155" class="h"/><use href="#p155" class="k"/>
<use href="#p156" fill="#a4d9d4" stroke="none"/><use href="#p156" class="h"/><use href="#p156" class="k"/>
<use href="#p157" fill="#a4d9d4" stroke="none"/><use href="#p157" class="h"/><use href="#p157" class="k"/>
<g class="h"><polyline points="165.4,90.5 133.1,119.4"/><polyline points="135.5,162.5 200.0,170.0 206.2,171.2 198.4,171.4 199.0,175.6"/><polyline points="225.9,191.2 234.3,187.8 253.5,187.0"/><polyline points="213.2,312.6 212.3,319.8 223.1,326.0 224.9,337.7 233.9,340.4 235.7,332.3 245.5,330.5 247.3,331.4"/><polyline points="245.5,316.2 245.5,321.5 247.3,331.4 250.9,339.5 255.4,338.6"/><polyline points="255.4,325.1 253.6,332.3 255.4,338.6 263.5,337.7 263.5,328.7"/><polyline points="233.9,340.4 224.9,337.7 223.1,341.3 217.7,352.1 215.9,359.3 211.4,371.8 221.3,384.4 232.1,382.6 239.3,393.4 251.8,402.4 255.4,411.3 255.4,419.9"/><polyline points="197.1,343.1 206.9,349.4 217.7,352.1"/><polyline points="221.5,406.7 231.6,425.8 233.8,444.9 234.9,489.9 243.9,516.9 257.4,532.6"/><polyline points="231.6,425.8 246.2,424.7 255.2,421.3 261.9,433.7 264.2,442.7 270.9,439.3 266.4,453.9"/><polyline points="255.2,421.3 257.4,413.5 264.2,409.0 268.7,429.2 270.9,439.3"/><polyline points="265.3,455.1 278.8,459.6"/><polyline points="162.9,288.9 166.6,286.6 165.9,283.7 171.9,282.2"/><polyline points="165.9,283.7 169.6,281.4 170.4,276.9"/><polyline points="167.4,294.9 174.9,290.4 182.4,289.6"/><polyline points="173.4,297.9 186.1,293.4"/><polyline points="177.9,309.9 183.9,307.6"/><polyline points="176.7,308.9 186.2,307.5"/><polyline points="186.2,316.9 190.2,312.9"/><polyline points="218.3,276.5 218.3,280.7"/><polyline points="263.5,249.6 230.8,281.3"/><polyline points="263.5,258.6 244.6,285.5"/><polyline points="263.5,266.0 246.3,289.1"/><polyline points="263.5,273.0 245.7,292.1"/><polyline points="263.5,281.0 246.3,295.1"/><polyline points="263.5,288.1 246.3,298.7"/><polyline points="263.5,297.6 247.0,301.7"/><polyline points="263.5,306.2 246.3,305.9"/><polyline points="467.3,157.3 469.3,160.0 474.7,160.0"/><polyline points="467.9,153.3 478.7,153.3"/><polyline points="469.3,148.2 477.4,148.2"/><polyline points="477.4,140.1 477.4,147.9 478.7,153.3 486.8,157.3"/><polyline points="446.4,158.0 447.7,173.5"/><polyline points="451.8,112.9 439.6,130.4 437.0,134.4 439.6,143.9 438.3,146.6"/><polyline points="460.7,111.3 462.5,108.9 474.7,109.5"/><polyline points="417.8,171.7 423.9,174.8 429.3,178.2 430.0,183.5 427.0,185.8 428.5,189.6 427.7,192.7 429.3,196.5"/><polyline points="430.0,183.5 435.4,184.3 436.9,186.6 433.8,189.6 428.5,189.6"/><polyline points="420.1,170.2 427.0,169.0"/><polyline points="428.5,162.9 427.0,169.0 425.5,175.1"/><polyline points="430.0,183.5 437.7,182.7 443.0,180.5 440.7,172.8 451.4,175.9 452.9,176.7"/><polyline points="443.0,180.5 452.9,178.9"/><polyline points="436.9,186.6 443.7,186.6 451.4,183.5 452.9,178.9"/><polyline points="451.4,182.0 462.0,180.5"/><polyline points="452.9,176.7 452.9,182.0"/><polyline points="443.7,186.6 444.5,188.1 452.9,189.6 460.5,187.3"/><polyline points="408.7,198.1 413.4,198.8 418.1,200.1"/><polyline points="405.3,227.1 403.7,234.9 388.0,246.7 386.4,251.4"/><polyline points="386.4,251.4 394.3,260.9 419.4,279.7 436.7,268.7"/><polyline points="433.6,232.6 435.1,245.1 436.7,268.7 449.3,275.0"/><polyline points="474.4,237.3 476.0,276.6 472.9,282.9"/><polyline points="476.0,270.3 495.0,268.7"/><polyline points="394.3,260.9 392.7,292.3 378.6,293.9 375.4,291.5"/><polyline points="419.4,279.7 417.9,293.9 406.9,297.0 395.9,308.0 391.1,295.4 378.6,293.9"/><polyline points="417.9,293.9 430.4,298.6 443.0,298.6 447.7,301.7"/><polyline points="475.7,269.9 507.1,269.9"/><polyline points="474.1,276.1 471.0,310.7"/><polyline points="499.3,307.6 507.1,306.0"/><polyline points="442.0,364.6 456.1,367.7 462.4,372.4 470.3,374.0 470.3,383.4 475.0,385.0 489.1,389.7 490.7,381.9 493.9,374.0"/><polyline points="442.0,403.9 471.9,405.4"/><polyline points="470.3,383.4 468.7,392.9 471.9,405.4"/><polyline points="492.3,389.7 493.9,383.4 498.6,378.7"/><polyline points="463.4,329.9 458.7,339.3 455.6,347.1 449.3,355.0 443.0,361.3"/><polyline points="408.4,309.4 411.6,326.7"/><polyline points="413.1,309.4 414.7,326.7"/><polyline points="796.4,356.6 795.4,376.8"/><polyline points="480.0,203.4 492.6,201.9 511.4,200.3 520.9,201.9 522.4,211.3 519.3,216.0 503.6,219.1 492.6,222.3"/><polyline points="517.7,217.6 513.0,231.7 505.1,238.0"/><polyline points="522.4,211.3 527.1,223.9 533.4,236.4 539.7,244.3"/><polyline points="513.0,231.7 525.6,244.3 536.6,245.9"/><polyline points="524.0,179.1 527.1,170.4 535.0,164.9 546.0,167.3 555.4,164.1 558.6,156.3 571.1,152.4 586.9,154.7 593.1,159.4 605.7,161.0 613.6,173.6 610.4,181.4 605.7,186.1 604.1,192.4 594.7,192.4 588.4,195.6 574.3,197.1 568.0,190.9 557.0,194.0 547.6,194.0 542.9,201.9"/><polyline points="543.6,216.0 555.4,212.9 565.6,223.9 577.4,219.1 590.0,216.0"/><polyline points="555.4,194.0 558.6,201.9 568.0,201.9 577.4,206.6 583.7,201.9"/><polyline points="577.4,206.6 580.6,212.9 590.0,216.0"/><polyline points="520.9,201.9 530.3,195.6 525.6,190.9"/><polyline points="526.0,285.6 541.7,282.4 554.3,280.9"/><polyline points="600.0,158.8 610.0,162.5 616.2,161.2"/><polyline points="682.5,162.5 685.0,150.0 700.0,152.5"/><polyline points="690.0,150.2 703.5,152.4 714.7,162.5 723.7,167.0 727.0,180.5"/><polyline points="691.9,264.0 694.2,263.2"/><polyline points="467.5,154.8 467.5,165.6 474.7,168.0 485.5,165.6 486.7,160.8 484.3,153.6"/><polyline points="463.9,173.9 474.7,168.0"/><polyline points="485.5,166.8 495.1,168.0 501.0,173.9 504.6,178.7 502.2,184.7 497.4,185.9"/><polyline points="466.3,178.7 475.9,178.7 480.7,179.9 481.9,187.1"/><polyline points="462.7,187.1 467.5,179.9"/><polyline points="462.7,187.1 466.3,193.1 475.9,195.5 480.7,191.9"/><polyline points="466.3,194.3 468.7,202.7"/><polyline points="455.6,185.9 460.3,193.1 461.5,200.3"/><polyline points="484.3,153.6 487.9,150.0"/><polyline points="486.7,160.8 495.1,168.0"/></g>
<g class="k"><polyline points="165.4,90.5 133.1,119.4"/><polyline points="135.5,162.5 200.0,170.0 206.2,171.2 198.4,171.4 199.0,175.6"/><polyline points="225.9,191.2 234.3,187.8 253.5,187.0"/><polyline points="213.2,312.6 212.3,319.8 223.1,326.0 224.9,337.7 233.9,340.4 235.7,332.3 245.5,330.5 247.3,331.4"/><polyline points="245.5,316.2 245.5,321.5 247.3,331.4 250.9,339.5 255.4,338.6"/><polyline points="255.4,325.1 253.6,332.3 255.4,338.6 263.5,337.7 263.5,328.7"/><polyline points="233.9,340.4 224.9,337.7 223.1,341.3 217.7,352.1 215.9,359.3 211.4,371.8 221.3,384.4 232.1,382.6 239.3,393.4 251.8,402.4 255.4,411.3 255.4,419.9"/><polyline points="197.1,343.1 206.9,349.4 217.7,352.1"/><polyline points="221.5,406.7 231.6,425.8 233.8,444.9 234.9,489.9 243.9,516.9 257.4,532.6"/><polyline points="231.6,425.8 246.2,424.7 255.2,421.3 261.9,433.7 264.2,442.7 270.9,439.3 266.4,453.9"/><polyline points="255.2,421.3 257.4,413.5 264.2,409.0 268.7,429.2 270.9,439.3"/><polyline points="265.3,455.1 278.8,459.6"/><polyline points="162.9,288.9 166.6,286.6 165.9,283.7 171.9,282.2"/><polyline points="165.9,283.7 169.6,281.4 170.4,276.9"/><polyline points="167.4,294.9 174.9,290.4 182.4,289.6"/><polyline points="173.4,297.9 186.1,293.4"/><polyline points="177.9,309.9 183.9,307.6"/><polyline points="176.7,308.9 186.2,307.5"/><polyline points="186.2,316.9 190.2,312.9"/><polyline points="218.3,276.5 218.3,280.7"/><polyline points="263.5,249.6 230.8,281.3"/><polyline points="263.5,258.6 244.6,285.5"/><polyline points="263.5,266.0 246.3,289.1"/><polyline points="263.5,273.0 245.7,292.1"/><polyline points="263.5,281.0 246.3,295.1"/><polyline points="263.5,288.1 246.3,298.7"/><polyline points="263.5,297.6 247.0,301.7"/><polyline points="263.5,306.2 246.3,305.9"/><polyline points="467.3,157.3 469.3,160.0 474.7,160.0"/><polyline points="467.9,153.3 478.7,153.3"/><polyline points="469.3,148.2 477.4,148.2"/><polyline points="477.4,140.1 477.4,147.9 478.7,153.3 486.8,157.3"/><polyline points="446.4,158.0 447.7,173.5"/><polyline points="451.8,112.9 439.6,130.4 437.0,134.4 439.6,143.9 438.3,146.6"/><polyline points="460.7,111.3 462.5,108.9 474.7,109.5"/><polyline points="417.8,171.7 423.9,174.8 429.3,178.2 430.0,183.5 427.0,185.8 428.5,189.6 427.7,192.7 429.3,196.5"/><polyline points="430.0,183.5 435.4,184.3 436.9,186.6 433.8,189.6 428.5,189.6"/><polyline points="420.1,170.2 427.0,169.0"/><polyline points="428.5,162.9 427.0,169.0 425.5,175.1"/><polyline points="430.0,183.5 437.7,182.7 443.0,180.5 440.7,172.8 451.4,175.9 452.9,176.7"/><polyline points="443.0,180.5 452.9,178.9"/><polyline points="436.9,186.6 443.7,186.6 451.4,183.5 452.9,178.9"/><polyline points="451.4,182.0 462.0,180.5"/><polyline points="452.9,176.7 452.9,182.0"/><polyline points="443.7,186.6 444.5,188.1 452.9,189.6 460.5,187.3"/><polyline points="408.7,198.1 413.4,198.8 418.1,200.1"/><polyline points="405.3,227.1 403.7,234.9 388.0,246.7 386.4,251.4"/><polyline points="386.4,251.4 394.3,260.9 419.4,279.7 436.7,268.7"/><polyline points="433.6,232.6 435.1,245.1 436.7,268.7 449.3,275.0"/><polyline points="474.4,237.3 476.0,276.6 472.9,282.9"/><polyline points="476.0,270.3 495.0,268.7"/><polyline points="394.3,260.9 392.7,292.3 378.6,293.9 375.4,291.5"/><polyline points="419.4,279.7 417.9,293.9 406.9,297.0 395.9,308.0 391.1,295.4 378.6,293.9"/><polyline points="417.9,293.9 430.4,298.6 443.0,298.6 447.7,301.7"/><polyline points="475.7,269.9 507.1,269.9"/><polyline points="474.1,276.1 471.0,310.7"/><polyline points="499.3,307.6 507.1,306.0"/><polyline points="442.0,364.6 456.1,367.7 462.4,372.4 470.3,374.0 470.3,383.4 475.0,385.0 489.1,389.7 490.7,381.9 493.9,374.0"/><polyline points="442.0,403.9 471.9,405.4"/><polyline points="470.3,383.4 468.7,392.9 471.9,405.4"/><polyline points="492.3,389.7 493.9,383.4 498.6,378.7"/><polyline points="463.4,329.9 458.7,339.3 455.6,347.1 449.3,355.0 443.0,361.3"/><polyline points="408.4,309.4 411.6,326.7"/><polyline points="413.1,309.4 414.7,326.7"/><polyline points="796.4,356.6 795.4,376.8"/><polyline points="480.0,203.4 492.6,201.9 511.4,200.3 520.9,201.9 522.4,211.3 519.3,216.0 503.6,219.1 492.6,222.3"/><polyline points="517.7,217.6 513.0,231.7 505.1,238.0"/><polyline points="522.4,211.3 527.1,223.9 533.4,236.4 539.7,244.3"/><polyline points="513.0,231.7 525.6,244.3 536.6,245.9"/><polyline points="524.0,179.1 527.1,170.4 535.0,164.9 546.0,167.3 555.4,164.1 558.6,156.3 571.1,152.4 586.9,154.7 593.1,159.4 605.7,161.0 613.6,173.6 610.4,181.4 605.7,186.1 604.1,192.4 594.7,192.4 588.4,195.6 574.3,197.1 568.0,190.9 557.0,194.0 547.6,194.0 542.9,201.9"/><polyline points="543.6,216.0 555.4,212.9 565.6,223.9 577.4,219.1 590.0,216.0"/><polyline points="555.4,194.0 558.6,201.9 568.0,201.9 577.4,206.6 583.7,201.9"/><polyline points="577.4,206.6 580.6,212.9 590.0,216.0"/><polyline points="520.9,201.9 530.3,195.6 525.6,190.9"/><polyline points="526.0,285.6 541.7,282.4 554.3,280.9"/><polyline points="600.0,158.8 610.0,162.5 616.2,161.2"/><polyline points="682.5,162.5 685.0,150.0 700.0,152.5"/><polyline points="690.0,150.2 703.5,152.4 714.7,162.5 723.7,167.0 727.0,180.5"/><polyline points="691.9,264.0 694.2,263.2"/><polyline points="467.5,154.8 467.5,165.6 474.7,168.0 485.5,165.6 486.7,160.8 484.3,153.6"/><polyline points="463.9,173.9 474.7,168.0"/><polyline points="485.5,166.8 495.1,168.0 501.0,173.9 504.6,178.7 502.2,184.7 497.4,185.9"/><polyline points="466.3,178.7 475.9,178.7 480.7,179.9 481.9,187.1"/><polyline points="462.7,187.1 467.5,179.9"/><polyline points="462.7,187.1 466.3,193.1 475.9,195.5 480.7,191.9"/><polyline points="466.3,194.3 468.7,202.7"/><polyline points="455.6,185.9 460.3,193.1 461.5,200.3"/><polyline points="484.3,153.6 487.9,150.0"/><polyline points="486.7,160.8 495.1,168.0"/></g>
<circle cx="265.9" cy="249" r="2.4" fill="#e6f4f2" stroke-width="1.2"/>
<circle cx="230.8" cy="281.3" r="1.1" fill="#000"/>
<circle cx="265.9" cy="258" r="2.4" fill="#e6f4f2" stroke-width="1.2"/>
<circle cx="244.6" cy="285.5" r="1.1" fill="#000"/>
<circle cx="265.9" cy="265.5" r="2.4" fill="#e6f4f2" stroke-width="1.2"/>
<circle cx="246.3" cy="289.1" r="1.1" fill="#000"/>
<circle cx="265.9" cy="272.6" r="2.4" fill="#e6f4f2" stroke-width="1.2"/>
<circle cx="245.7" cy="292.1" r="1.1" fill="#000"/>
<circle cx="265.9" cy="280.7" r="2.4" fill="#e6f4f2" stroke-width="1.2"/>
<circle cx="246.3" cy="295.1" r="1.1" fill="#000"/>
<circle cx="265.9" cy="287.9" r="2.4" fill="#e6f4f2" stroke-width="1.2"/>
<circle cx="246.3" cy="298.7" r="1.1" fill="#000"/>
<circle cx="265.9" cy="297.5" r="2.4" fill="#e6f4f2" stroke-width="1.2"/>
<circle cx="247.0" cy="301.7" r="1.1" fill="#000"/>
<circle cx="265.9" cy="306.2" r="2.4" fill="#e6f4f2" stroke-width="1.2"/>
<circle cx="246.3" cy="305.9" r="1.1" fill="#000"/>
<circle cx="487.1" cy="445" r="2.2" fill="none" stroke-width="1.2"/>
<circle cx="554.4" cy="413.6" r="1.2" fill="#fff" stroke-width="1"/>
<ellipse cx="423.5" cy="344.8" rx="1.3" ry="1.6" fill="#000"/>
<circle cx="770.1" cy="316.2" r="2.4" fill="#dff2ef" stroke-width="1.2"/>
<circle cx="808.5" cy="317.2" r="2.4" fill="#dff2ef" stroke-width="1.2"/>
<circle cx="837.8" cy="376.8" r="2.4" fill="#dff2ef" stroke-width="1.2"/>
<circle cx="694.3" cy="338.4" r="2.4" fill="#dff2ef" stroke-width="1.2"/>
<circle cx="863.2" cy="320.7" r="2.2" fill="#233b96" stroke-width="1.3"/>
<circle cx="853.7" cy="345" r="2.2" fill="#a4d9d4" stroke-width="1.3"/>
<circle cx="874" cy="345.8" r="2.2" fill="#233b96" stroke-width="1.3"/>
<circle cx="881.9" cy="366.5" r="2.2" fill="#00a7c5" stroke-width="1.3"/>
<circle cx="838.9" cy="376.6" r="2.2" fill="#e8f7f5" stroke-width="1.3"/>
<circle cx="35.7" cy="375.5" r="2.2" fill="#dff3f0" stroke-width="1.3"/>
<circle cx="37" cy="390.6" r="2.2" fill="#dff3f0" stroke-width="1.3"/>
<circle cx="33.1" cy="412.9" r="2.2" fill="#dff3f0" stroke-width="1.3"/>
<circle cx="44.8" cy="408.8" r="2.2" fill="#f4fbfa" stroke-width="1.3"/>
<circle cx="71.7" cy="417.7" r="2.2" fill="#dff3f0" stroke-width="1.3"/>
<circle cx="607.5" cy="329" r="2.2" fill="#dff3f0" stroke-width="1.2"/>
<circle cx="570" cy="360" r="2.2" fill="#dff3f0" stroke-width="1.2"/>
<circle cx="796.5" cy="296" r="2.2" fill="#dff3f0" stroke-width="1.2"/>
<ellipse cx="241.5" cy="231" rx="2" ry="1" fill="#000"/>
<ellipse cx="345" cy="295" rx="1.2" ry="1.5" fill="#000"/>
</g>
</svg>
</body></html>
